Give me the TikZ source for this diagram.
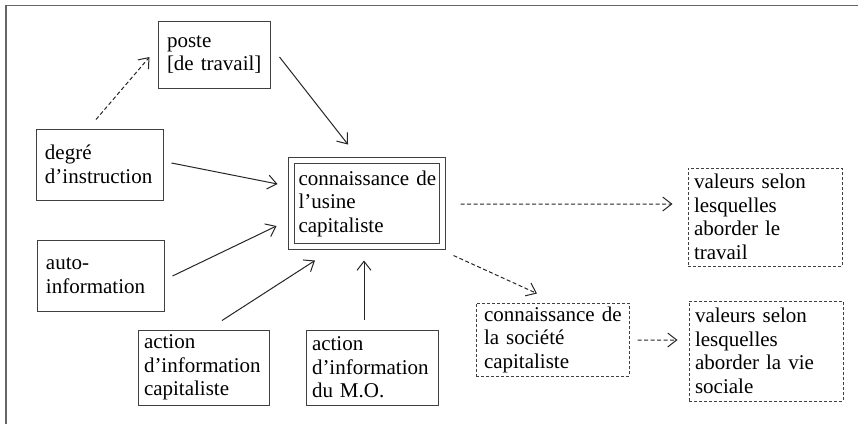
\documentclass[tikz,border=0pt]{standalone}
\usepackage{fontspec}
\setmainfont{Liberation Serif}
\usetikzlibrary{arrows.meta,calc}
\hyphenpenalty=10000
\exhyphenpenalty=10000
\begin{document}
\begin{tikzpicture}[x=1bp,y=-1bp,
  every node/.style={font=\fontsize{21bp}{23.5bp}\selectfont, align=left, inner ysep=0pt},
  box/.style={draw=black!75, line width=1bp, rectangle},
  dbox/.style={box, dash pattern=on 3bp off 2bp},
  arr/.style={draw=black!85, line width=1bp, -{Straight Barb[length=9bp,width=14bp]}},
  darr/.style={arr, dash pattern=on 4bp off 2.5bp},
  frame/.style={draw=black!60, line width=1.6bp}]
\useasboundingbox (0,0) rectangle (858,424);
\draw[frame] (6,424) -- (6,5.5) -- (858,5.5);

\node[box, minimum width=112bp, minimum height=67bp, text width=94bp, inner xsep=9bp] (poste) at (214,54.5) {poste\\\mbox{[de travail]}};
\node[box, minimum width=126bp, minimum height=71bp, text width=110bp, inner xsep=8bp] (deg) at (100,164.5) {degré\\\mbox{d’instruction}};
\node[box, minimum width=126bp, minimum height=71bp, text width=110bp, inner xsep=8bp] (auto) at (101,275.5) {auto-\\\mbox{information}};
\node[box, minimum width=131bp, minimum height=75bp, text width=119bp, inner xsep=6bp] (actcap) at (203.5,367.5) {action\\\mbox{d’information}\\capitaliste};
\node[box, minimum width=132bp, minimum height=75bp, text width=120bp, inner xsep=6bp] (actmo) at (372,367.5) {action\\\mbox{d’information}\\\mbox{du M.O.}};
\node[box, double=white, double distance=5bp, minimum width=151bp, minimum height=86bp, text width=137bp, inner xsep=7bp] (cen) at (367,203.5) {\mbox{connaissance de}\\l’usine\\capitaliste};
\node[dbox, minimum width=154bp, minimum height=98bp, text width=142bp, inner xsep=6bp] (valT) at (765,217) {\mbox{valeurs selon}\\lesquelles\\\mbox{aborder le}\\travail};
\node[dbox, minimum width=153bp, minimum height=73bp, text width=137bp, inner xsep=8bp] (soc) at (552.5,339.5) {\mbox{connaissance de}\\\mbox{la société}\\capitaliste};
\node[dbox, minimum width=154bp, minimum height=100bp, text width=142bp, inner xsep=6bp] (valV) at (766,351) {\mbox{valeurs selon}\\lesquelles\\\mbox{aborder la vie}\\sociale};

\draw[darr] ($(deg.north)+(-4,-9)$) -- ($(poste.west)+(-8,2.5)$);
\draw[arr] ($(poste.east)+(9,2.5)$) -- ($(cen.north)+(-19,-15.5)$);
\draw[arr] ($(deg.east)+(8,-1.5)$) -- ($(cen.west)+(-13.5,-19.5)$);
\draw[arr] ($(auto.east)+(8,0.5)$) -- ($(cen.west)+(-14.5,22.5)$);
\draw[arr] ($(actcap.north)+(18.5,-9)$) -- ($(cen.south)+(-52,13.5)$);
\draw[arr] ($(actmo.north)+(-8,-10)$) -- ($(cen.south)+(-3,13.5)$);
\draw[darr] ($(cen.east)+(17.5,0.5)$) -- ($(valT.west)+(-15,-13)$);
\draw[darr] ($(cen.south east)+(10.5,8.5)$) -- ($(soc.north)+(-15.5,-9)$);
\draw[darr] ($(soc.east)+(8,0.5)$) -- ($(valV.west)+(-11,-11)$);
\end{tikzpicture}
\end{document}
